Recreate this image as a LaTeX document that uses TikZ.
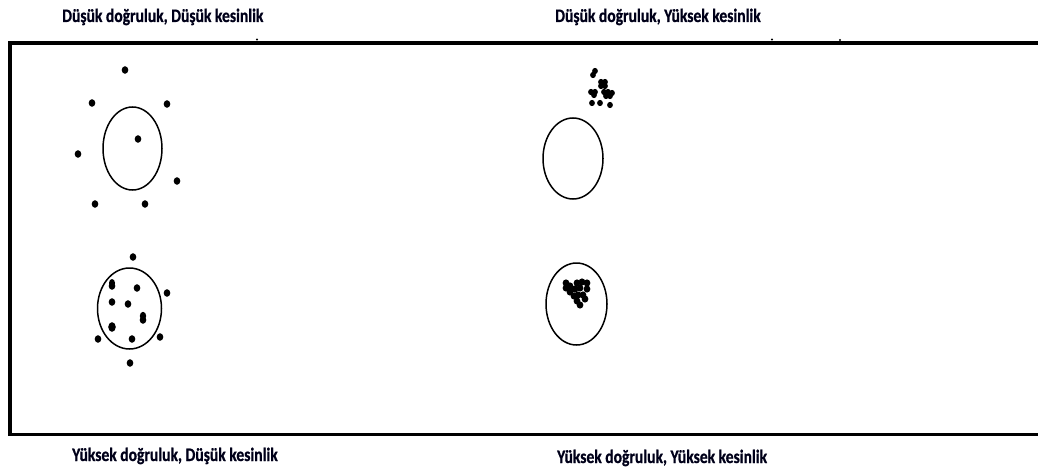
\documentclass[tikz,border=0pt]{standalone}
\usepackage{fontspec}
\newfontfamily\lblfont[FakeStretch=0.82,FakeBold=0.8]{Carlito}
\begin{document}
\begin{tikzpicture}[x=1pt,y=-1pt,
  lbl/.style={font=\lblfont\bfseries\fontsize{19}{22}\selectfont, text=black!90!blue, inner sep=0pt, anchor=base west},
  target/.style={line width=1.5pt, draw=black},
  frame/.style={line width=3.2pt, draw=black},
  pt/.style={fill=black}]
\useasboundingbox (0,0) rectangle (1038,476);
% frame (right side runs off the page)
\draw[frame] (1045,43) -- (10,43) -- (10,434.5) -- (1045,434.5);
% tiny marks near the top line
\fill (257,39.5) circle (1.2);
\fill (772,39.5) circle (1.2);
\fill (840,40) circle (1.2);
% labels
\node[lbl] (t1) at (62,22) {Düşük doğruluk, Düşük kesinlik};
\node[lbl] (t2) at (555,22) {Düşük doğruluk, Yüksek kesinlik};
\node[lbl] (t3) at (72,461) {Yüksek doğruluk, Düşük kesinlik};
\node[lbl] (t4) at (557,463) {Yüksek doğruluk, Yüksek kesinlik};
% target 1: low accuracy, low precision
\draw[target] (132.5,148.5) ellipse (29.5 and 41.5);
\foreach \x/\y in {125/70, 92/103, 167/104, 138/139, 78/154, 177/181, 95/204, 145/204}
  \fill[pt] (\x,\y) ellipse (3.3 and 3.8);
% target 2: low accuracy, high precision
\draw[target] (573,158.5) ellipse (30 and 40.5);
\foreach \x/\y in {595/71, 593/75, 601/82, 605/82, 601/86, 605/86, 591/92, 595/92, 594/95, 604/92, 608/92, 612/93, 606/96, 610/96, 592/103, 600/103, 610/105}
  \fill[pt] (\x,\y) ellipse (2.9 and 3.1);
% target 3: high accuracy, low precision
\draw[target] (129.5,308.5) ellipse (32 and 40.5);
\foreach \x/\y in {133/257, 112/286, 137/288, 167/293, 112/302, 128/304, 143/320, 98/339, 132/339, 160/337, 130/363}
  \fill[pt] (\x,\y) ellipse (3.3 and 3.8);
\fill[pt] (112,327) ellipse (3.8 and 4.8);
\fill[pt] (112,283) ellipse (3 and 4);
\fill[pt] (143,316) ellipse (3.2 and 4.2);
% target 4: high accuracy, high precision
\draw[target] (576.5,304) ellipse (30.5 and 41);
\foreach \x/\y in {566/283, 566/288, 570/292, 574/296, 577/283, 582/282, 587/283, 580/288, 587/289, 578/295, 583/295, 577/301, 580/305, 585/299, 570/286, 575/289}
  \fill[pt] (\x,\y) ellipse (3.4 and 3.6);
\end{tikzpicture}
\end{document}
